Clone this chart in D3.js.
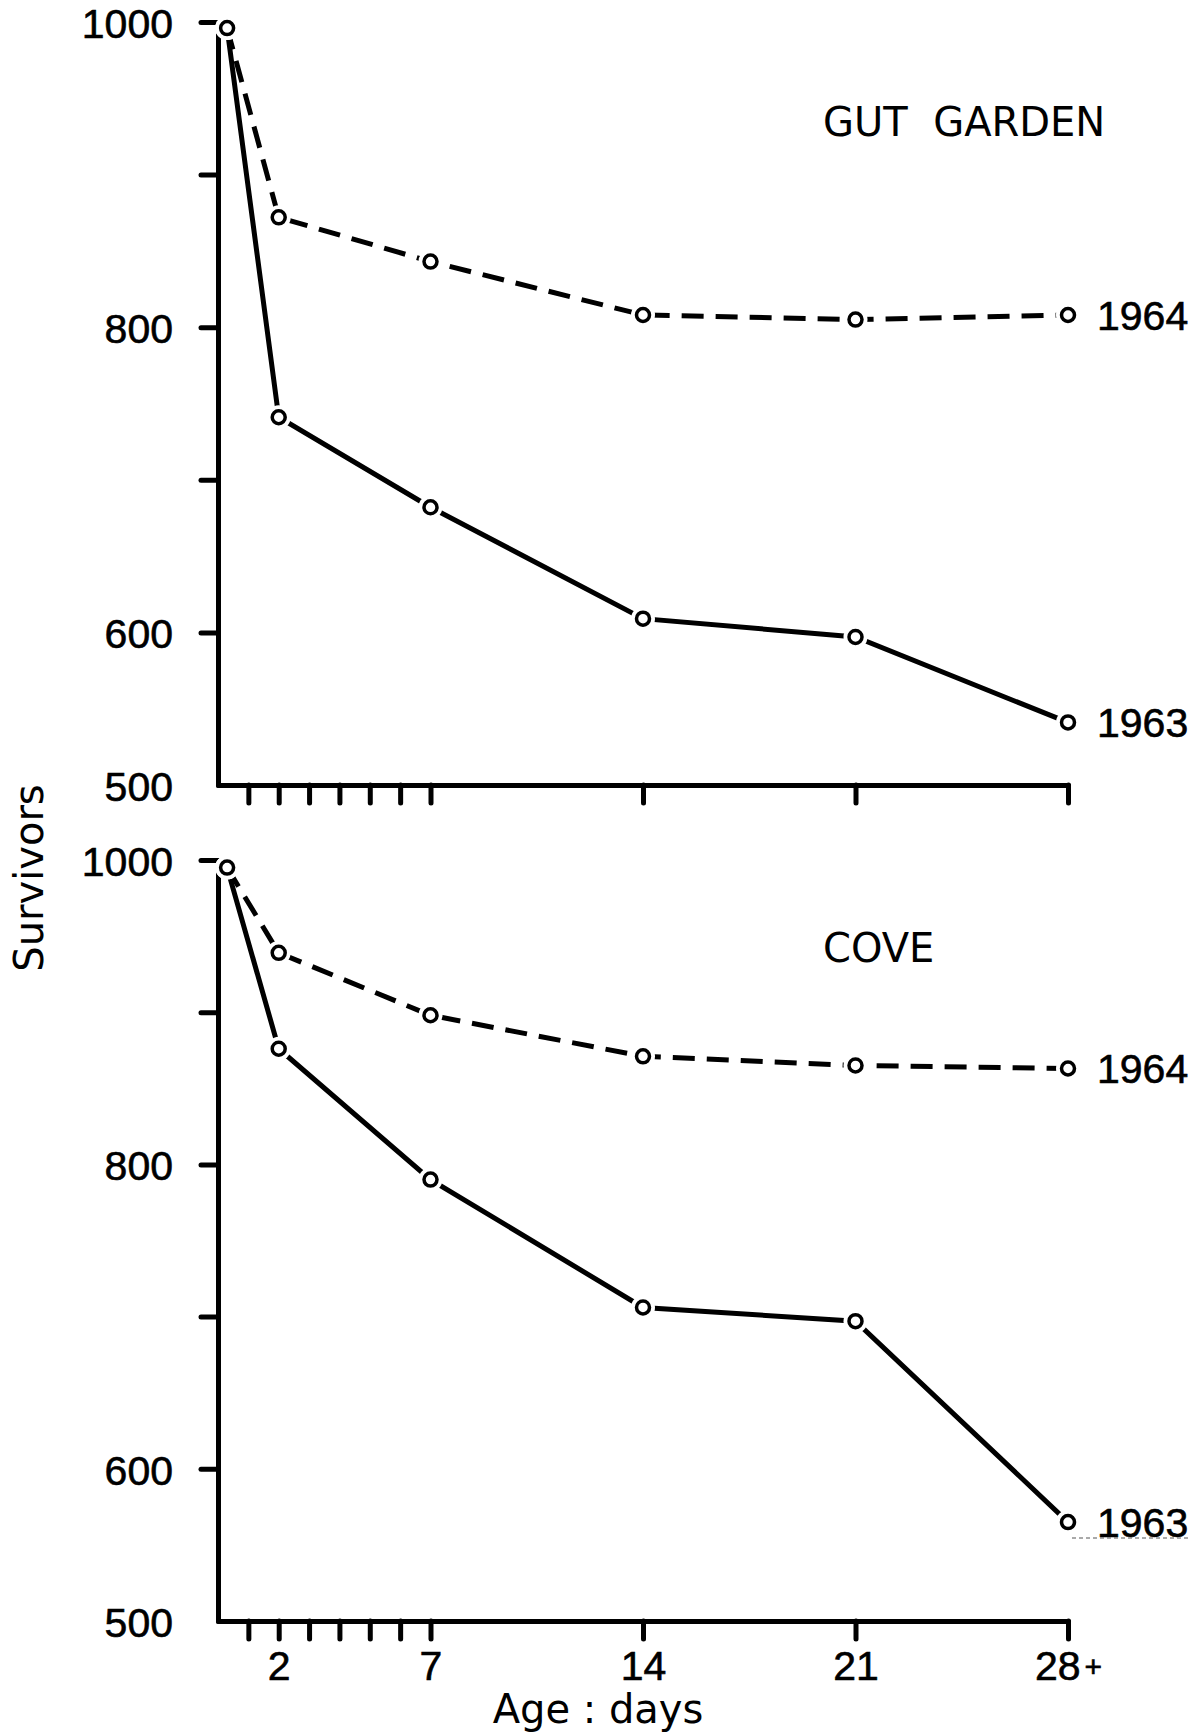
<!DOCTYPE html>
<html>
<head>
<meta charset="utf-8">
<script src="https://cdn.jsdelivr.net/npm/d3@7"></script>
<style>
  body { margin: 0; background: #fff; }
  svg { display: block; }
  .tick-label { font-family: "Liberation Sans Narrow", "Liberation Sans", sans-serif; font-size: 41px; fill: #000; stroke: #000; stroke-width: 0.6px; }
  .title { font-family: "DejaVu Sans", sans-serif; font-size: 40px; fill: #000; }
</style>
</head>
<body>
<div id="chart"></div>
<script>
// ages in days, first point sits just right of the axis
var ages = [0.3, 2, 7, 14, 21, 28];
var gutGarden1963 = [996, 741, 682, 609, 597, 541];
var gutGarden1964 = [996, 872, 843, 808, 805, 808];
var cove1963 = [995, 876, 790, 706, 697, 565];
var cove1964 = [995, 939, 898, 871, 865, 863];

var yTicks = [500, 600, 700, 800, 900, 1000];
var yLabels = [500, 600, 800, 1000];
var xTicks = [1, 2, 3, 4, 5, 6, 7, 14, 21, 28];
var xLabels = {2: "2", 7: "7", 14: "14", 21: "21", 28: "28"};

var W = 1193, H = 1733;
var svg = d3.select("#chart").append("svg").attr("width", W).attr("height", H);

var x = d3.scaleLinear().domain([0, 28]).range([218, 1068]);

var panels = [
  {name: "GUT  GARDEN", top: 22, bottom: 785, s63: gutGarden1963, s64: gutGarden1964, labels: false, titleY: 136},
  {name: "COVE", top: 860, bottom: 1621, s63: cove1963, s64: cove1964, labels: true, titleY: 962}
];

panels.forEach(function(p) {
  var y = d3.scaleLinear().domain([500, 1000]).range([p.bottom, p.top]);
  var g = svg.append("g");

  var yAxis = d3.axisLeft(y).tickValues(yTicks).tickSize(17).tickSizeOuter(0).tickPadding(28)
    .tickFormat(function(d) { return yLabels.indexOf(d) >= 0 ? d : ""; });
  var ya = g.append("g").attr("transform", "translate(" + x(0) + ",0)").call(yAxis);
  ya.selectAll(".tick").filter(function(d) { return d === 500; }).select("line").remove();

  var xAxis = d3.axisBottom(x).tickValues(xTicks).tickSize(18).tickSizeOuter(0).tickPadding(12)
    .tickFormat(function(d) { return p.labels && xLabels[d] ? xLabels[d] : ""; });
  var xa = g.append("g").attr("transform", "translate(0," + p.bottom + ")").call(xAxis);

  [ya, xa].forEach(function(a) {
    a.select(".domain").attr("stroke", "#000").attr("stroke-width", 5).attr("stroke-linecap", "round");
    a.selectAll(".tick line").attr("stroke", "#000").attr("stroke-width", 5).attr("stroke-linecap", "round");
    a.selectAll(".tick text").attr("class", "tick-label").attr("font-size", null).attr("font-family", null);
  });
  ya.selectAll(".tick text").attr("dy", "0.38em");
  if (p.labels) {
    xa.selectAll(".tick").filter(function(d) { return d === 28; }).select("text")
      .append("tspan").attr("font-size", 30).attr("dx", 4).attr("dy", "-0.1em").text("+");
  }

  var line = d3.line().x(function(d, i) { return x(ages[i]); }).y(function(d) { return y(d); });

  g.append("path").datum(p.s64).attr("d", line).attr("fill", "none").attr("stroke", "#000")
    .attr("stroke-width", 5).attr("stroke-dasharray", "22,12");
  g.append("path").datum(p.s63).attr("d", line).attr("fill", "none").attr("stroke", "#000")
    .attr("stroke-width", 5);

  [p.s64, p.s63].forEach(function(s) {
    var pts = g.selectAll(null).data(s).enter().append("g")
      .attr("transform", function(d, i) { return "translate(" + x(ages[i]) + "," + y(d) + ")"; });
    // white halo makes the line stop short of the marker, like the pen drawing
    pts.append("circle").attr("r", 12).attr("fill", "#fff");
    pts.append("circle").attr("r", 6.5).attr("fill", "#fff").attr("stroke", "#000").attr("stroke-width", 3.5);
  });

  g.append("text").attr("class", "tick-label").attr("x", x(28) + 29).attr("y", y(p.s64[5])).attr("dy", "0.36em").text("1964");
  g.append("text").attr("class", "tick-label").attr("x", x(28) + 29).attr("y", y(p.s63[5])).attr("dy", "0.36em").text("1963");

  g.append("text").attr("class", "title").attr("x", 823).attr("y", p.titleY)
    .style("white-space", "pre").text(p.name);
});

// faint scan line under the lower 1963 label
svg.append("line").attr("x1", 1072).attr("x2", 1190).attr("y1", 1538).attr("y2", 1538)
  .attr("stroke", "#555").attr("stroke-width", 1).attr("stroke-dasharray", "4,3");

svg.append("text").attr("class", "title").attr("font-size", 43)
  .attr("transform", "translate(43,878) rotate(-90)").attr("text-anchor", "middle").text("Survivors");

svg.append("text").attr("class", "title").attr("x", 598).attr("y", 1723)
  .attr("text-anchor", "middle").text("Age : days");
</script>
</body>
</html>
